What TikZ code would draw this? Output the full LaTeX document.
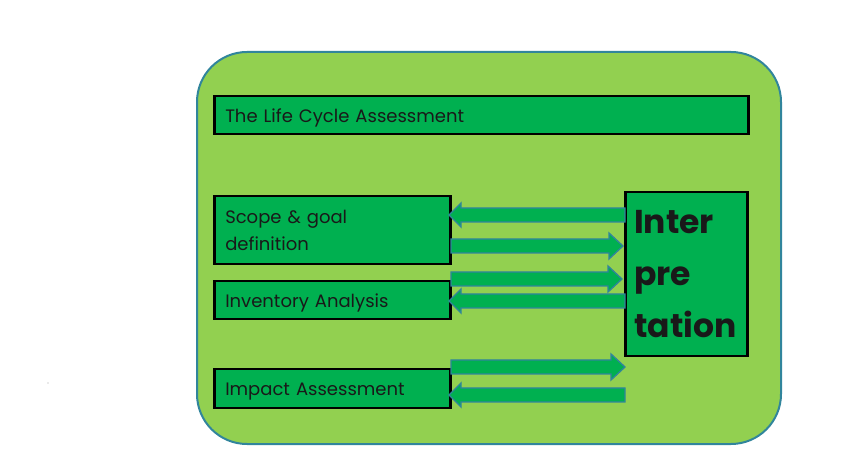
\documentclass[tikz,border=0pt]{standalone}
\usepackage{fontspec}
\setmainfont{Poppins}
\definecolor{lightgreen}{HTML}{92D050}
\definecolor{boxgreen}{HTML}{00B050}
\definecolor{tealline}{HTML}{31859C}
\tikzset{
  panel/.style={draw=tealline, line width=2pt, fill=lightgreen, rounded corners=50pt},
  stagebox/.style={draw=black, line width=2.5pt, fill=boxgreen, anchor=north west, align=left, inner xsep=11pt, inner ysep=0pt, font=\fontsize{18}{27}\selectfont, text=black!90},
  bigarrow/.style={draw=tealline, line width=1.3pt, fill=boxgreen, line join=miter},
}
\newcommand\arrowRight[3]{% x1 x2 yc
  \draw[bigarrow] (#1,#3-7) -- (#2-14,#3-7) -- (#2-14,#3-13) -- (#2,#3) -- (#2-14,#3+13) -- (#2-14,#3+7) -- (#1,#3+7) -- cycle;}
\newcommand\arrowLeft[3]{% x1(tip) x2(tail) yc
  \draw[bigarrow] (#2,#3-7) -- (#1+12,#3-7) -- (#1+12,#3-12) -- (#1,#3) -- (#1+12,#3+12) -- (#1+12,#3+7) -- (#2,#3+7) -- cycle;}
\newcommand\lowertext[1]{\raisebox{-2.5pt}[\height][\depth]{#1}}
\begin{document}
\begin{tikzpicture}[x=1pt,y=-1pt]
\useasboundingbox (0,0) rectangle (844,470);
\fill[gray!70] (48,383) circle (0.7pt);
\draw[panel] (197,52) rectangle (781,444);
\node[stagebox, text width=512pt, minimum height=38pt] (lca) at (213,95) {\lowertext{The Life Cycle Assessment}};
\node[stagebox, text width=214pt, minimum height=68pt] (scope) at (213,195) {Scope \& goal\\definition};
\node[stagebox, text width=214pt, minimum height=38pt] (inv) at (213,280) {\lowertext{Inventory Analysis}};
\node[stagebox, text width=214pt, minimum height=39pt] (imp) at (213,368) {\lowertext{Impact Assessment}};
\node[stagebox, text width=104pt, inner xsep=9pt, minimum height=164pt, font=\fontsize{33}{52}\selectfont\bfseries] (interp) at (624,191) {Inter\\pre\\tation};
\arrowLeft{449}{625}{215}
\arrowRight{451}{623}{246}
\arrowRight{451}{622}{279}
\arrowLeft{449}{625}{301}
\arrowRight{451}{625}{367}
\arrowLeft{449}{625}{395}
\end{tikzpicture}
\end{document}
